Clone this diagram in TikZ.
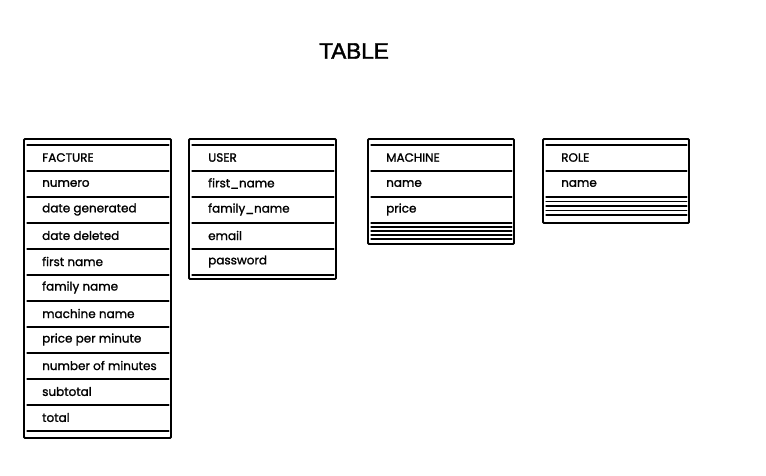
\documentclass[tikz,border=0pt]{standalone}
\usepackage{fontspec}
\setmainfont{Poppins}
\newfontfamily\fieldfont{Poppins}[FakeBold=1.3]
\newfontfamily\titlefont{Liberation Sans}[FakeBold=1.8]
\usetikzlibrary{calc}
\tikzset{
  tbl/.style={draw=black, line width=1.9pt, rounded corners=1pt, anchor=north west, inner sep=0pt},
  sep/.style={draw=black, line width=1.05pt, line cap=round},
  field/.style={anchor=west, inner sep=0pt, font=\fieldfont\fontsize{12}{14}\selectfont, text=black},
  ttl/.style={inner sep=0pt, font=\titlefont\fontsize{22.5}{26}\selectfont}
}
\begin{document}
\begin{tikzpicture}[x=1pt,y=-1pt]
\useasboundingbox (0,0) rectangle (766,475);
\fill[white] (0,0) rectangle (766,475);
\node[ttl] (title) at (354,51) {TABLE};

% boxes
\node[tbl, minimum width=147pt, minimum height=299pt] (facture) at (23,138) {};
\node[tbl, minimum width=147pt, minimum height=140pt] (user) at (188,138) {};
\node[tbl, minimum width=146pt, minimum height=105pt] (machine) at (367,138) {};
\node[tbl, minimum width=146pt, minimum height=84pt] (role) at (542,138) {};

% separators
\foreach \b/\n in {facture/11, user/5, machine/2, role/1}{
  \foreach \k in {0,...,\n}{
    \draw[sep] ([xshift=4pt,yshift=-7pt-26pt*\k]\b.north west) -- ([xshift=-3pt,yshift=-7pt-26pt*\k]\b.north east);
  }
}
% stacked sketch lines (empty rows)
\foreach \k in {0,...,4}{
  \draw[sep] ([xshift=4pt,yshift=-85pt-4pt*\k]machine.north west) -- ([xshift=-3pt,yshift=-85pt-4pt*\k]machine.north east);
  \draw[sep] ([xshift=4pt,yshift=-59pt-4.5pt*\k]role.north west) -- ([xshift=-3pt,yshift=-59pt-4.5pt*\k]role.north east);
}

% texts
\foreach \t [count=\i from 0] in {FACTURE, numero, date generated, date deleted, first name, family name, machine name, price per minute, number of minutes, subtotal, total}{
  \node[field] (facture-\i) at ([xshift=19pt,yshift=-19.5pt-26pt*\i]facture.north west) {\t};
}
\foreach \t [count=\i from 0] in {USER, first\_name, family\_name, email, password}{
  \node[field] (user-\i) at ([xshift=20pt,yshift=-19.5pt-26pt*\i]user.north west) {\t};
}
\foreach \t [count=\i from 0] in {MACHINE, name, price}{
  \node[field] (machine-\i) at ([xshift=19pt,yshift=-19.5pt-26pt*\i]machine.north west) {\t};
}
\foreach \t [count=\i from 0] in {ROLE, name}{
  \node[field] (role-\i) at ([xshift=19pt,yshift=-19.5pt-26pt*\i]role.north west) {\t};
}
\end{tikzpicture}
\end{document}
